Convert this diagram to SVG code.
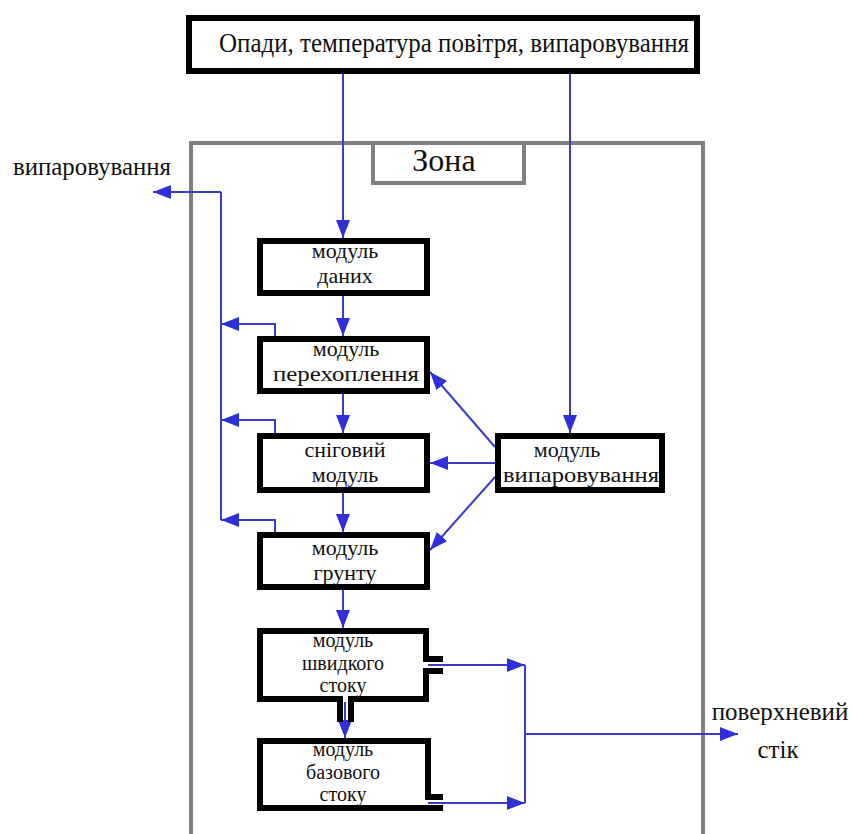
<svg xmlns="http://www.w3.org/2000/svg" width="852" height="834" viewBox="0 0 852 834">
<defs>
<marker id="ah" markerUnits="userSpaceOnUse" markerWidth="20" markerHeight="16" refX="18" refY="7" orient="auto">
<path d="M0,0 L18,7 L0,14 Z" fill="#3030d8"/>
</marker>
</defs>
<rect width="852" height="834" fill="#fff"/>
<g id="zone">
<path d="M191,834 V143 H703 V834" fill="none" stroke="#808080" stroke-width="4"/>
<rect x="373" y="143" width="151" height="40" fill="#fff" stroke="#808080" stroke-width="4"/>
<text x="444" y="171" font-family="Liberation Serif" font-size="32" fill="#111" text-anchor="middle">Зона</text>
</g>
<g id="connectors" fill="none" stroke="#3a3acc" stroke-width="2">
<path d="M343,74 V238" marker-end="url(#ah)"/>
<path d="M570,74 V433" marker-end="url(#ah)"/>
<path d="M343,296 V336" marker-end="url(#ah)"/>
<path d="M343,394 V433" marker-end="url(#ah)"/>
<path d="M343,493 V532" marker-end="url(#ah)"/>
<path d="M343,590 V628" marker-end="url(#ah)"/>
<path d="M345,702 V738" marker-end="url(#ah)"/>
<path d="M221,520 V192"/>
<path d="M221,192 H153" marker-end="url(#ah)"/>
<path d="M275,336 V324 H221" marker-end="url(#ah)"/>
<path d="M275,433 V420 H221" marker-end="url(#ah)"/>
<path d="M275,532 V520 H221" marker-end="url(#ah)"/>
<path d="M495,447 L430,372" marker-end="url(#ah)"/>
<path d="M495,463 H430" marker-end="url(#ah)"/>
<path d="M495,477 L430,550" marker-end="url(#ah)"/>
<path d="M428,665 H525" marker-end="url(#ah)"/>
<path d="M428,803 H525" marker-end="url(#ah)"/>
<path d="M525,665 V803"/>
<path d="M525,734 H738" marker-end="url(#ah)"/>
</g>
<g id="inputs">
<rect x="189" y="18" width="508" height="53" fill="#fff" stroke="#000" stroke-width="6"/>
<text x="454" y="52" font-family="Liberation Serif" font-size="27" fill="#111" text-anchor="middle" textLength="470" lengthAdjust="spacingAndGlyphs">Опади, температура повітря, випаровування</text>
</g>
<g id="data" font-family="Liberation Serif" font-size="22" fill="#111" text-anchor="middle">
<rect x="260" y="241" width="167" height="52" fill="#fff" stroke="#000" stroke-width="6"/>
<text x="345" y="258">модуль</text>
<text x="345" y="283">даних</text>
</g>
<g id="interception" font-family="Liberation Serif" font-size="22" fill="#111" text-anchor="middle">
<rect x="260" y="339" width="167" height="52" fill="#fff" stroke="#000" stroke-width="6"/>
<text x="346" y="356">модуль</text>
<text x="346" y="381" textLength="146" lengthAdjust="spacingAndGlyphs">перехоплення</text>
</g>
<g id="snow" font-family="Liberation Serif" font-size="22" fill="#111" text-anchor="middle">
<rect x="260" y="436" width="167" height="54" fill="#fff" stroke="#000" stroke-width="6"/>
<text x="345" y="457">сніговий</text>
<text x="345" y="482">модуль</text>
</g>
<g id="soil" font-family="Liberation Serif" font-size="22" fill="#111" text-anchor="middle">
<rect x="260" y="535" width="167" height="52" fill="#fff" stroke="#000" stroke-width="6"/>
<text x="345" y="555">модуль</text>
<text x="345" y="580">грунту</text>
</g>
<g id="evaporation" font-family="Liberation Serif" font-size="22" fill="#111" text-anchor="middle">
<rect x="498" y="436" width="164" height="54" fill="#fff" stroke="#000" stroke-width="6"/>
<text x="567" y="457">модуль</text>
<text x="581" y="482" textLength="156" lengthAdjust="spacingAndGlyphs">випаровування</text>
</g>
<g id="fast" font-family="Liberation Serif" font-size="20" fill="#111" text-anchor="middle">
<path d="M340,722 V699 H260 V631 H426 V659 H443 M443,671 H426 V699 H351 V722" fill="none" stroke="#000" stroke-width="6"/>
<text x="343" y="647">модуль</text>
<text x="343" y="669.5">швидкого</text>
<text x="343" y="692">стоку</text>
</g>
<g id="base" font-family="Liberation Serif" font-size="20" fill="#111" text-anchor="middle">
<path d="M443,808 H260 V741 H428 V797 H443" fill="none" stroke="#000" stroke-width="6"/>
<text x="343" y="756">модуль</text>
<text x="343" y="778.5">базового</text>
<text x="343" y="801">стоку</text>
</g>
<g id="labels" font-family="Liberation Serif" font-size="25" fill="#111" text-anchor="middle">
<text x="92" y="175" textLength="158" lengthAdjust="spacingAndGlyphs">випаровування</text>
<text x="780" y="720">поверхневий</text>
<text x="778" y="758">стік</text>
</g>
</svg>
